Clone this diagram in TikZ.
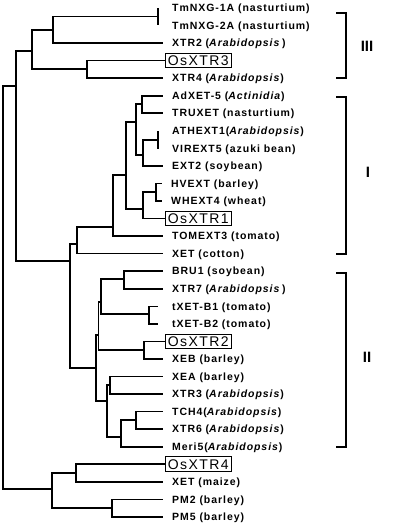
\documentclass[tikz,border=0pt]{standalone}
\usepackage{fontspec}
\setmainfont{Liberation Sans}
\newfontfamily\leaffont[LetterSpace=9]{Liberation Sans}
\newfontfamily\osfont[LetterSpace=10]{Liberation Sans}

\begin{document}
\begin{tikzpicture}[x=1pt,y=-1pt,
    branch/.style={line width=1.9pt},
    leaf/.style={anchor=west,inner xsep=9pt,inner ysep=0pt,text height=7.6pt,text depth=0.4pt,
      font=\leaffont\bfseries\fontsize{10.5}{12}\selectfont},
    farleaf/.style={leaf,inner xsep=14pt},
    osbox/.style={anchor=west,draw,line width=0.9pt,inner xsep=2.5pt,inner ysep=2.2pt,
      text height=10.2pt,text depth=0.2pt,font=\osfont\fontsize{14}{14}\selectfont},
    clade/.style={line width=1.4pt},
    cladename/.style={font=\bfseries\fontsize{15}{15}\selectfont}]
\useasboundingbox (0,0) rectangle (400,527);

% leaves
\node[farleaf] (l0) at (158,8) {TmNXG-1A (nasturtium)};
\node[farleaf] (l1) at (158,25.5) {TmNXG-2A (nasturtium)};
\node[leaf] (l2) at (163,43) {XTR2 (\textit{Arabidopsis}\,)};
\node[osbox] (l3) at (165,60.5) {OsXTR3};
\node[leaf] (l4) at (163,78) {XTR4 (\textit{Arabidopsis})};
\node[leaf] (l5) at (163,96) {AdXET-5 (\textit{Actinidia})};
\node[leaf] (l6) at (163,113) {TRUXET (nasturtium)};
\node[farleaf] (l7) at (158,131) {ATHEXT1(\textit{Arabidopsis})};
\node[farleaf] (l8) at (158,148.5) {VIREXT5 (azuki bean)};
\node[leaf] (l9) at (163,166) {EXT2 (soybean)};
\node[leaf] (l10) at (162,183.5) {HVEXT (barley)};
\node[leaf] (l11) at (162,201) {WHEXT4 (wheat)};
\node[osbox] (l12) at (165,218.5) {OsXTR1};
\node[leaf] (l13) at (163,236) {TOMEXT3 (tomato)};
\node[leaf] (l14) at (163,253.5) {XET (cotton)};
\node[leaf] (l15) at (163,271) {BRU1 (soybean)};
\node[leaf] (l16) at (163,289) {XTR7 (\textit{Arabidopsis}\,)};
\node[farleaf] (l17) at (158,306.5) {tXET-B1 (tomato)};
\node[farleaf] (l18) at (158,324) {tXET-B2 (tomato)};
\node[osbox] (l19) at (165,341.5) {OsXTR2};
\node[leaf] (l20) at (163,359) {XEB (barley)};
\node[leaf] (l21) at (163,376.5) {XEA (barley)};
\node[leaf] (l22) at (163,394) {XTR3 (\textit{Arabidopsis})};
\node[leaf] (l23) at (163,411.5) {TCH4(\textit{Arabidopsis})};
\node[leaf] (l24) at (163,429) {XTR6 (\textit{Arabidopsis})};
\node[leaf] (l25) at (163,447) {Meri5(\textit{Arabidopsis})};
\node[osbox] (l26) at (165,464) {OsXTR4};
\node[leaf] (l27) at (163,482) {XET (maize)};
\node[leaf] (l28) at (163,499.5) {PM2 (barley)};
\node[leaf] (l29) at (163,517) {PM5 (barley)};

% inner nodes
\coordinate (root) at (3,287);
\coordinate (nD) at (16,86);
\coordinate (nC) at (32,51);
\coordinate (nA) at (53,30);
\coordinate (nZ) at (158,16.5);
\coordinate (nB) at (87,69);
\coordinate (nE) at (70,261);
\coordinate (nF) at (77,244);
\coordinate (nG) at (113,227);
\coordinate (nM) at (126,175);
\coordinate (nK) at (136,122);
\coordinate (nJ) at (142,104);
\coordinate (nL) at (143,155);
\coordinate (nLL) at (158,140);
\coordinate (nI) at (143,209);
\coordinate (nHW) at (156,192);
\coordinate (nN) at (96,368);
\coordinate (nO2) at (98.5,335);
\coordinate (nO1) at (101,302);
\coordinate (nP) at (124,279);
\coordinate (nQ) at (149,314);
\coordinate (nR) at (144,350);
\coordinate (nU) at (107,401);
\coordinate (nS) at (110,385);
\coordinate (nT) at (121,437);
\coordinate (nV) at (136,420);
\coordinate (nW) at (52,489);
\coordinate (nX) at (76,473);
\coordinate (nY) at (112,508);

% tree
\draw[branch] (root) |- (nD);
\draw[branch] (root) |- (nW);
\draw[branch] (nD) |- (nC);
\draw[branch] (nD) |- (nE);
\draw[branch] (nC) |- (nA);
\draw[branch] (nC) |- (nB);
\draw[branch] (nA) |- (nZ);
\draw[branch] (nA) |- (l2.west);
\draw[branch] (nZ) |- (l0.west);
\draw[branch] (nZ) |- (l1.west);
\draw[branch] (nB) |- (l3.west);
\draw[branch] (nB) |- (l4.west);

\draw[branch] (nE) |- (nF);
\draw[branch] (nE) |- (nN);
\draw[branch] (nF) |- (nG);
\draw[branch] (nF) |- (l14.west);
\draw[branch] (nG) |- (nM);
\draw[branch] (nG) |- (l13.west);
\draw[branch] (nM) |- (nK);
\draw[branch] (nM) |- (nI);
\draw[branch] (nK) |- (nJ);
\draw[branch] (nK) |- (nL);
\draw[branch] (nJ) |- (l5.west);
\draw[branch] (nJ) |- (l6.west);
\draw[branch] (nL) |- (nLL);
\draw[branch] (nL) |- (l9.west);
\draw[branch] (nLL) |- (l7.west);
\draw[branch] (nLL) |- (l8.west);
\draw[branch] (nI) |- (nHW);
\draw[branch] (nI) |- (l12.west);
\draw[branch] (nHW) |- (l10.west);
\draw[branch] (nHW) |- (l11.west);

\draw[branch] (nN) |- (nO2);
\draw[branch] (nN) |- (nU);
\draw[branch] (nO2) |- (nO1);
\draw[branch] (nO2) |- (nR);
\draw[branch] (nO1) |- (nP);
\draw[branch] (nO1) |- (nQ);
\draw[branch] (nP) |- (l15.west);
\draw[branch] (nP) |- (l16.west);
\draw[branch] (nQ) |- (l17.west);
\draw[branch] (nQ) |- (l18.west);
\draw[branch] (nR) |- (l19.west);
\draw[branch] (nR) |- (l20.west);
\draw[branch] (nU) |- (nS);
\draw[branch] (nU) |- (nT);
\draw[branch] (nS) |- (l21.west);
\draw[branch] (nS) |- (l22.west);
\draw[branch] (nT) |- (nV);
\draw[branch] (nT) |- (l25.west);
\draw[branch] (nV) |- (l23.west);
\draw[branch] (nV) |- (l24.west);

\draw[branch] (nW) |- (nX);
\draw[branch] (nW) |- (nY);
\draw[branch] (nX) |- (l26.west);
\draw[branch] (nX) |- (l27.west);
\draw[branch] (nY) |- (l28.west);
\draw[branch] (nY) |- (l29.west);

% clade brackets
\coordinate (IIItop) at (336,13);
\coordinate (IIIbot) at (336,78);
\coordinate (Itop) at (336,97);
\coordinate (Ibot) at (336,254);
\coordinate (IItop) at (336,273);
\coordinate (IIbot) at (336,447);
\draw[clade] (IIItop) -- ++(10,0) |- (IIIbot);
\draw[clade] (Itop) -- ++(10,0) |- (Ibot);
\draw[clade] (IItop) -- ++(10,0) |- (IIbot);
\node[cladename] (gIII) at (367,46) {III};
\node[cladename] (gI) at (368,172) {I};
\node[cladename] (gII) at (367,357) {II};
\end{tikzpicture}
\end{document}
